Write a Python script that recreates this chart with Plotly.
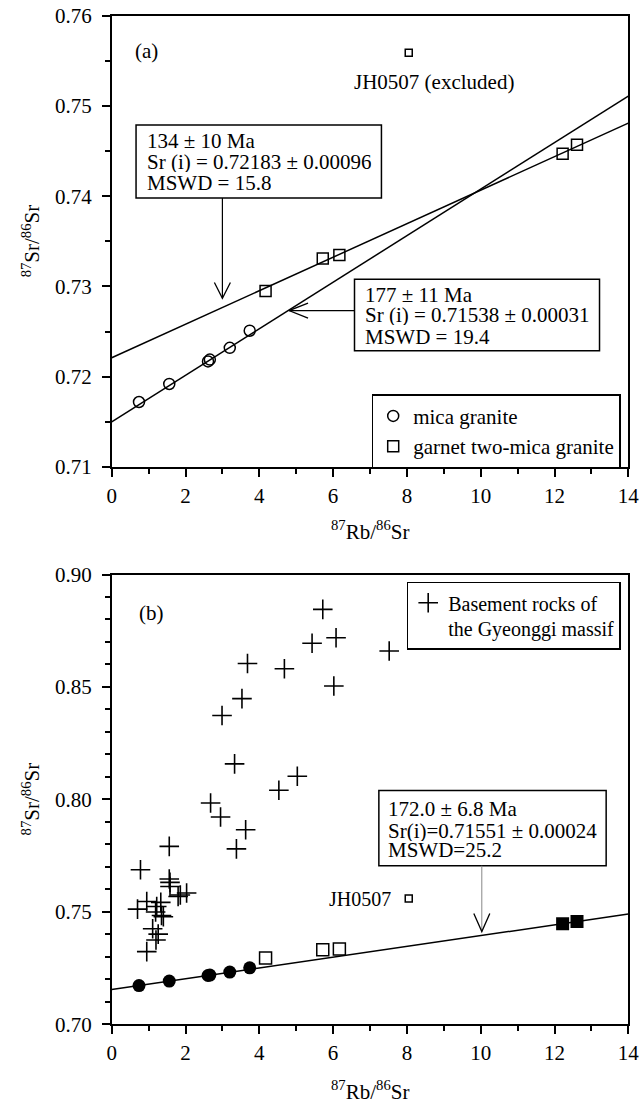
import plotly.graph_objects as go

W, H = 640, 1107
SERIF = "Liberation Serif, Times New Roman, Times, serif"

# ---------------- data ----------------
# panel (a) and (b): samples of this study (87Rb/86Sr, 87Sr/86Sr)
mica_rb = [0.74, 1.56, 2.61, 2.66, 3.20, 3.74]
mica_sr = [0.7172, 0.7192, 0.7217, 0.7219, 0.7232, 0.7251]
garnet_rb = [4.17, 5.72, 6.17, 12.22, 12.61]
garnet_sr = [0.7295, 0.7331, 0.7335, 0.7447, 0.7457]
excl_rb = [8.05]
excl_sr = [0.7559]

# isochron lines (end points at Rb/Sr = 0 and 14)
iso_x = [0, 14]
iso177_sr = [0.7150, 0.7511]
iso134_sr = [0.7221, 0.7481]
iso172_sr = [0.7155, 0.7490]

# panel (b): basement rocks of the Gyeonggi massif
basement_rb = [5.72, 6.08, 5.43, 3.68, 4.68, 6.02, 3.53, 2.99, 3.33, 5.03,
               7.52, 4.53, 2.68, 2.95, 3.63, 3.38, 1.56, 0.78, 1.56, 1.58,
               1.58, 1.80, 1.86, 2.03, 0.95, 0.70, 1.33, 1.22, 1.19, 1.35,
               1.40, 1.11, 1.26, 1.20, 0.95]
basement_sr = [0.8845, 0.8719, 0.8694, 0.8604, 0.8581, 0.8504, 0.8448, 0.8373, 0.8158, 0.8103,
               0.8660, 0.8041, 0.7984, 0.7922, 0.7865, 0.7780, 0.7791, 0.7687, 0.7646, 0.7631,
               0.7613, 0.7568, 0.7575, 0.7584, 0.7546, 0.7512, 0.7542, 0.7524, 0.7499, 0.7484,
               0.7478, 0.7425, 0.7401, 0.7375, 0.7323]

x_range = [0, 14]
ya_range = [0.71, 0.76]
yb_range = [0.70, 0.90]
xa_ticks = [0, 2, 4, 6, 8, 10, 12, 14]

# ---------------- geometry (px) ----------------
PX_L, PX_R = 111.7, 628.3
A_TOP, A_BOT = 15.7, 467.0
B_TOP, B_BOT = 574.5, 1024.3
sx = (PX_R - PX_L) / (x_range[1] - x_range[0])
sya = (A_BOT - A_TOP) / (ya_range[1] - ya_range[0])
syb = (B_BOT - B_TOP) / (yb_range[1] - yb_range[0])


def ydom(top, bot):
    return [1 - bot / H, 1 - top / H]


fig = go.Figure()
LW = 1.5

# ---- panel (a) ----
fig.add_trace(go.Scatter(x=iso_x, y=iso177_sr, mode="lines", line=dict(color="black", width=LW),
                         xaxis="x", yaxis="y", showlegend=False, hoverinfo="skip"))
fig.add_trace(go.Scatter(x=iso_x, y=iso134_sr, mode="lines", line=dict(color="black", width=LW),
                         xaxis="x", yaxis="y", showlegend=False, hoverinfo="skip"))
fig.add_trace(go.Scatter(x=mica_rb, y=mica_sr, mode="markers", name="mica granite",
                         marker=dict(symbol="circle-open", size=11, color="black", line=dict(width=LW)),
                         xaxis="x", yaxis="y", legend="legend"))
fig.add_trace(go.Scatter(x=garnet_rb, y=garnet_sr, mode="markers", name="garnet two-mica granite",
                         marker=dict(symbol="square-open", size=11, color="black", line=dict(width=LW)),
                         xaxis="x", yaxis="y", legend="legend"))
fig.add_trace(go.Scatter(x=excl_rb, y=excl_sr, mode="markers", showlegend=False,
                         marker=dict(symbol="square-open", size=7, color="black", line=dict(width=LW)),
                         xaxis="x", yaxis="y"))

# ---- panel (b) ----
fig.add_trace(go.Scatter(x=iso_x, y=iso172_sr, mode="lines", line=dict(color="black", width=LW),
                         xaxis="x2", yaxis="y2", showlegend=False, hoverinfo="skip"))
fig.add_trace(go.Scatter(x=basement_rb, y=basement_sr, mode="markers",
                         name="Basement rocks of<br>the Gyeonggi massif",
                         marker=dict(symbol="cross-thin", size=14, color="black",
                                     line=dict(width=1.6, color="black")),
                         xaxis="x2", yaxis="y2", legend="legend2"))
fig.add_trace(go.Scatter(x=mica_rb, y=mica_sr, mode="markers", showlegend=False,
                         marker=dict(symbol="circle", size=13, color="black"),
                         xaxis="x2", yaxis="y2"))
fig.add_trace(go.Scatter(x=garnet_rb[:3], y=garnet_sr[:3], mode="markers", showlegend=False,
                         marker=dict(symbol="square-open", size=12, color="black", line=dict(width=LW)),
                         xaxis="x2", yaxis="y2"))
fig.add_trace(go.Scatter(x=garnet_rb[3:], y=garnet_sr[3:], mode="markers", showlegend=False,
                         marker=dict(symbol="square", size=13, color="black"),
                         xaxis="x2", yaxis="y2"))
fig.add_trace(go.Scatter(x=excl_rb, y=excl_sr, mode="markers", showlegend=False,
                         marker=dict(symbol="square-open", size=7, color="black", line=dict(width=LW)),
                         xaxis="x2", yaxis="y2"))

tickfont = dict(family=SERIF, size=21, color="black")
common_x = dict(range=x_range, tickvals=xa_ticks, ticks="outside", ticklen=8, tickwidth=1.5,
                tickcolor="black", showline=True, linecolor="black", linewidth=1.5, mirror=True,
                showgrid=False, zeroline=False, tickfont=tickfont, ticklabeloverflow="allow",
                minor=dict(dtick=1, ticks="outside", ticklen=5, tickwidth=1.5, tickcolor="black", showgrid=False),
                domain=[PX_L / W, PX_R / W], automargin=False, ticklabelstandoff=1)
common_y = dict(ticks="outside", ticklen=8, tickwidth=1.5, tickcolor="black", showline=True,
                linecolor="black", linewidth=1.5, mirror=True, showgrid=False, zeroline=False,
                tickfont=tickfont, tickformat=".2f", automargin=False, ticklabelstandoff=6,
                ticklabeloverflow="allow")

fig.update_layout(
    width=W, height=H, margin=dict(l=0, r=0, t=0, b=0),
    paper_bgcolor="white", plot_bgcolor="white",
    font=dict(family=SERIF, size=21, color="black"),
    xaxis=dict(anchor="y", **common_x),
    yaxis=dict(anchor="x", range=ya_range, dtick=0.01, domain=ydom(A_TOP, A_BOT),
               minor=dict(dtick=0.005, ticks="outside", ticklen=5, tickwidth=1.5, tickcolor="black", showgrid=False),
               **common_y),
    xaxis2=dict(anchor="y2", **common_x),
    yaxis2=dict(anchor="x2", range=yb_range, dtick=0.05, domain=ydom(B_TOP, B_BOT),
                minor=dict(dtick=0.01, ticks="outside", ticklen=5, tickwidth=1.5, tickcolor="black", showgrid=False),
                **common_y),
    legend=dict(x=371.7 / W, y=1 - 394.3 / H, xanchor="left", yanchor="top",
                bordercolor="black", borderwidth=1.5, bgcolor="white",
                font=dict(family=SERIF, size=21, color="black"), tracegroupgap=0, itemwidth=30),
    legend2=dict(x=406.7 / W, y=1 - 581.7 / H, xanchor="left", yanchor="top",
                 bordercolor="black", borderwidth=1.5, bgcolor="white", valign="top",
                 font=dict(family=SERIF, size=20, color="black"), itemwidth=30),
)

ann = []
shapes = []


def text(x, y, s, xref, yref, size=21, xanchor="left", height=None):
    d = dict(x=x, y=y, xref=xref, yref=yref, text=s, showarrow=False,
             xanchor=xanchor, yanchor="middle", font=dict(family=SERIF, size=size, color="black"))
    if height:
        d["height"] = height
    ann.append(d)


def box(x0, x1, y0, y1, xref, yref):
    shapes.append(dict(type="rect", x0=x0, x1=x1, y0=y0, y1=y1, xref=xref, yref=yref,
                       line=dict(color="black", width=1.5), fillcolor="rgba(0,0,0,0)", layer="below"))


def seg(x0, y0, x1, y1, xref, yref, color="black", width=1.2):
    shapes.append(dict(type="line", x0=x0, y0=y0, x1=x1, y1=y1, xref=xref, yref=yref,
                       line=dict(color=color, width=width)))


def chevron(xt, yt, dx_px, dy_px, xref, yref, sy, horizontal=False):
    # open "V" arrow head with its tip at (xt, yt)
    if horizontal:
        a = (xt + dx_px / sx, yt + dy_px / sy)
        b = (xt + dx_px / sx, yt - dy_px / sy)
    else:
        a = (xt - dx_px / sx, yt + dy_px / sy)
        b = (xt + dx_px / sx, yt + dy_px / sy)
    shapes.append(dict(type="path", xref=xref, yref=yref,
                       path=f"M {a[0]},{a[1]} L {xt},{yt} L {b[0]},{b[1]}",
                       line=dict(color="black", width=1.3)))


LH = 20  # compact line boxes for the stacked box texts

# ---- panel (a) annotations ----
text(0.57, 0.7561, "(a)", "x", "y")
text(8.73, 0.7526, "JH0507 (excluded)", "x", "y", xanchor="center")
box(0.66, 7.31, 0.7398, 0.7479, "x", "y")
text(0.90, 0.7461, "134 ± 10 Ma", "x", "y", height=LH)
text(0.90, 0.7438, "Sr (i) = 0.72183 ± 0.00096", "x", "y", height=LH)
text(0.90, 0.7415, "MSWD = 15.8", "x", "y", height=LH)
seg(3.0, 0.7398, 3.0, 0.7287, "x", "y")
chevron(3.0, 0.7287, 8, 15.7, "x", "y", sya)

box(6.58, 13.22, 0.72289, 0.73081, "x", "y")
text(6.81, 0.72907, "177 ± 11 Ma", "x", "y", height=LH)
text(6.81, 0.72685, "Sr (i) = 0.71538 ± 0.00031", "x", "y", height=LH)
text(6.81, 0.72445, "MSWD = 19.4", "x", "y", height=LH)
seg(6.58, 0.72733, 4.806, 0.72733, "x", "y")
chevron(4.806, 0.72733, 19, 7.5, "x", "y", sya, horizontal=True)

# ---- panel (b) annotations ----
text(0.69, 0.8828, "(b)", "x2", "y2")
text(7.61, 0.7557, "JH0507", "x2", "y2", size=20, xanchor="right")
box(7.24, 13.40, 0.77051, 0.80392, "x2", "y2")
text(7.44, 0.79577, "172.0 ± 6.8 Ma", "x2", "y2", size=21, height=LH)
text(7.44, 0.78610, "Sr(i)=0.71551 ± 0.00024", "x2", "y2", size=21, height=LH)
text(7.44, 0.77764, "MSWD=25.2", "x2", "y2", size=21, height=LH)
seg(10.03, 0.77051, 10.03, 0.74125, "x2", "y2", color="#888888", width=1)
chevron(10.03, 0.74125, 8, 18, "x2", "y2", syb)

# ---- axis titles ----
xt = "<sup>87</sup>Rb/<sup>86</sup>Sr"
yt = "<sup>87</sup>Sr/<sup>86</sup>Sr"
xc = (PX_L + PX_R) / 2 / W
for ytitle_px, (top, bot) in [(530, (A_TOP, A_BOT)), (1090, (B_TOP, B_BOT))]:
    ann.append(dict(x=xc, y=1 - ytitle_px / H, xref="paper", yref="paper", text=xt, showarrow=False,
                    xanchor="center", yanchor="middle", font=dict(family=SERIF, size=21, color="black")))
    ann.append(dict(x=31 / W, y=1 - (top + bot) / 2 / H, xref="paper", yref="paper", text=yt,
                    showarrow=False, textangle=-90, xanchor="center", yanchor="middle",
                    font=dict(family=SERIF, size=21, color="black")))

fig.update_layout(annotations=ann, shapes=shapes)
fig.write_html("out.html", config={"displayModeBar": False},
               post_script="document.body.style.margin='0';document.body.style.overflow='hidden';")
